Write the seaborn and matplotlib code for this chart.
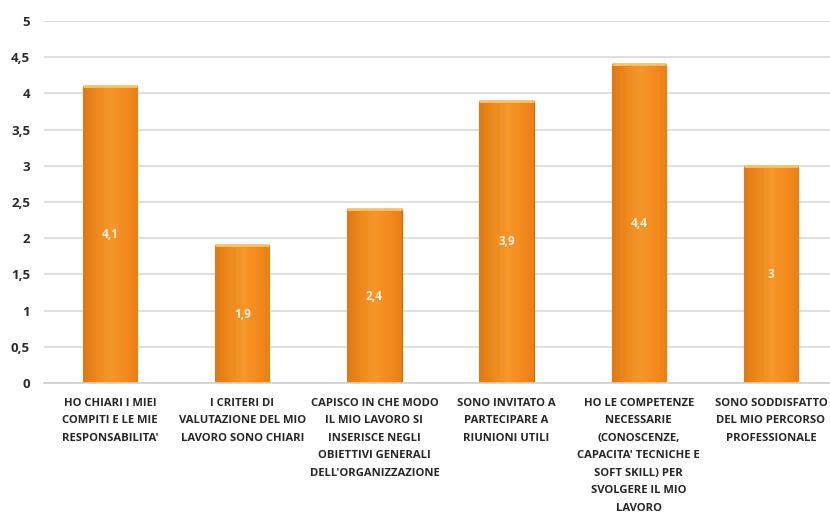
import numpy as np
import pandas as pd
import matplotlib
matplotlib.use("Agg")
import matplotlib.pyplot as plt
from matplotlib.colors import LinearSegmentedColormap
import seaborn as sns

categories = [
    "HO CHIARI I MIEI\nCOMPITI E LE MIE\nRESPONSABILITA'",
    "I CRITERI DI\nVALUTAZIONE DEL MIO\nLAVORO SONO CHIARI",
    "CAPISCO IN CHE MODO\nIL MIO LAVORO SI\nINSERISCE NEGLI\nOBIETTIVI GENERALI\nDELL'ORGANIZZAZIONE",
    "SONO INVITATO A\nPARTECIPARE A\nRIUNIONI UTILI",
    "HO LE COMPETENZE\nNECESSARIE\n(CONOSCENZE,\nCAPACITA' TECNICHE E\nSOFT SKILL) PER\nSVOLGERE IL MIO\nLAVORO",
    "SONO SODDISFATTO\nDEL MIO PERCORSO\nPROFESSIONALE",
]
values = [4.1, 1.9, 2.4, 3.9, 4.4, 3.0]
value_labels = ["4,1", "1,9", "2,4", "3,9", "4,4", "3"]
y_ticks = [0, 0.5, 1, 1.5, 2, 2.5, 3, 3.5, 4, 4.5, 5]
y_tick_labels = ["0", "0,5", "1", "1,5", "2", "2,5", "3", "3,5", "4", "4,5", "5"]

sns.set_style("white")
plt.rcParams["font.family"] = ["Open Sans", "DejaVu Sans"]

df = pd.DataFrame({"domanda": categories, "punteggio": values})

fig = plt.figure(figsize=(8.3, 5.13), dpi=100)
ax = fig.add_axes([44 / 830, 1 - 383 / 513, (837 - 44) / 830, (383 - 21) / 513])

sns.barplot(data=df, x="domanda", y="punteggio", ax=ax, color="#F7901E",
            width=0.41, edgecolor="#C06A14", linewidth=0.8, saturation=1, zorder=2)

# soft cylindrical orange shading on each bar
shade = LinearSegmentedColormap.from_list(
    "bar_shade", ["#EA8016", "#F78E1E", "#FC9B2C", "#F78E1E", "#EA8016"])
xs = np.linspace(0, 1, 64)
ys = np.linspace(0, 1, 64)
grad = xs[None, :] * np.ones((64, 1))
vert = 0.95 + 0.05 * ys[:, None]
for patch in ax.patches:
    x0, y0 = patch.get_x(), patch.get_y()
    w, h = patch.get_width(), patch.get_height()
    rgba = shade(grad)
    rgba[..., :3] *= vert
    rgba[..., :3] = np.clip(rgba[..., :3], 0, 1)
    im = ax.imshow(rgba, extent=[x0, x0 + w, y0, y0 + h], origin="lower",
                   aspect="auto", zorder=2.5)
    im.set_clip_path(patch)
    # light rim along the top
    ax.plot([x0, x0 + w], [y0 + h, y0 + h], color="#FFC35E", lw=2.0,
            zorder=2.6, solid_capstyle="butt")

for i, (v, lab) in enumerate(zip(values, value_labels)):
    ax.text(i, v / 2, lab, ha="center", va="center", color="#FFF2DA",
            fontsize=8.5, fontweight="bold", zorder=3)

ax.set_xlim(-0.5, len(categories) - 0.5)
ax.set_ylim(0, 5)
ax.set_yticks(y_ticks)
ax.set_yticklabels(y_tick_labels, fontsize=9.5, fontweight="bold", color="#2B2B2B")
ax.yaxis.grid(True, color="#D9D9D9", linewidth=1.2, zorder=0)
ax.set_axisbelow(True)
ax.set_xticks(range(len(categories)))
ax.set_xticklabels(categories, fontsize=8.1, fontweight="bold", color="#262626",
                   linespacing=1.82)
ax.tick_params(axis="y", length=0, pad=10)
ax.tick_params(axis="x", length=0, pad=10.5)
ax.set_xlabel("")
ax.set_ylabel("")
for side in ["top", "right", "left"]:
    ax.spines[side].set_visible(False)
ax.spines["bottom"].set_color("#D0D0D0")
ax.spines["bottom"].set_linewidth(1.2)

fig.savefig("out.png", dpi=100)
